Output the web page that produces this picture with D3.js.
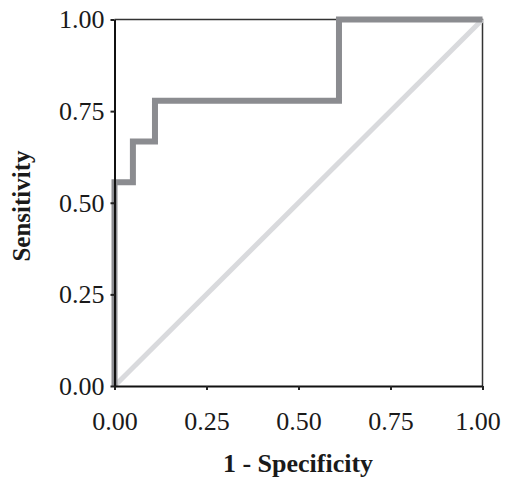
<!DOCTYPE html>
<html>
<head>
<meta charset="utf-8">
<script src="https://cdn.jsdelivr.net/npm/d3@7"></script>
<style>
  body { margin: 0; background: #fff; }
  svg text { font-family: "Liberation Serif", "Times New Roman", serif; }
</style>
</head>
<body>
<div id="chart"></div>
<script>
// ROC step points (1 - specificity, sensitivity)
const fpr = [0, 0, 0.05, 0.11, 0.61, 1];
const tpr = [0, 0.556, 0.667, 0.778, 1, 1];
const refLine = [0, 1];
const tickVals = [0, 0.25, 0.5, 0.75, 1];
const xTitle = "1 - Specificity";
const yTitle = "Sensitivity";

const width = 505;
const height = 478;
const margin = {top: 19.5, right: 22.5, bottom: 92, left: 114.5};

const svg = d3.select("#chart").append("svg")
    .attr("width", width)
    .attr("height", height);

const x = d3.scaleLinear().domain([0, 1]).range([margin.left, width - margin.right]);
const y = d3.scaleLinear().domain([0, 1]).range([height - margin.bottom, margin.top]);

// top / right frame
svg.append("path")
    .attr("d", `M${x(0)},${y(1)}H${x(1)}V${y(0)}`)
    .attr("fill", "none")
    .attr("stroke", "#333")
    .attr("stroke-width", 1.5);

// reference diagonal
svg.append("line")
    .attr("x1", x(refLine[0])).attr("y1", y(refLine[0]))
    .attr("x2", x(refLine[1])).attr("y2", y(refLine[1]))
    .attr("stroke", "#d9dadd")
    .attr("stroke-width", 5);

// ROC curve
const pts = fpr.map((f, i) => [f, tpr[i]]);
const line = d3.line()
    .x(d => x(d[0]))
    .y(d => y(d[1]))
    .curve(d3.curveStepAfter);

svg.append("path")
    .datum(pts)
    .attr("d", line)
    .attr("fill", "none")
    .attr("stroke", "#8b8c90")
    .attr("stroke-width", 6)
    .attr("stroke-linejoin", "miter");

const fmt = d3.format(".2f");

const xAxis = svg.append("g")
    .attr("transform", `translate(0,${y(0)})`)
    .call(d3.axisBottom(x).tickValues(tickVals).tickFormat(fmt)
        .tickSize(4).tickSizeOuter(0).tickPadding(22));

const yAxis = svg.append("g")
    .attr("transform", `translate(${x(0)},0)`)
    .call(d3.axisLeft(y).tickValues(tickVals).tickFormat(fmt)
        .tickSize(4).tickSizeOuter(0).tickPadding(6));

[xAxis, yAxis].forEach(g => {
    g.select(".domain").attr("stroke", "#111").attr("stroke-width", 2);
    g.selectAll(".tick line").attr("stroke", "#222").attr("stroke-width", 2);
    g.selectAll(".tick text")
        .attr("fill", "#1a1a1a")
        .style("font-family", "'Liberation Serif', serif")
        .style("font-size", "26px");
});

// keep the last x label inside the page
xAxis.selectAll(".tick text").filter(d => d === 1).attr("dx", -5);

svg.append("text")
    .attr("x", 298)
    .attr("y", 472)
    .attr("text-anchor", "middle")
    .style("font-size", "26px")
    .style("font-weight", "bold")
    .attr("fill", "#1a1a1a")
    .text(xTitle);

svg.append("text")
    .attr("transform", "translate(30,206) rotate(-90)")
    .attr("text-anchor", "middle")
    .style("font-size", "25px")
    .style("font-weight", "bold")
    .attr("fill", "#1a1a1a")
    .text(yTitle);
</script>
</body>
</html>
